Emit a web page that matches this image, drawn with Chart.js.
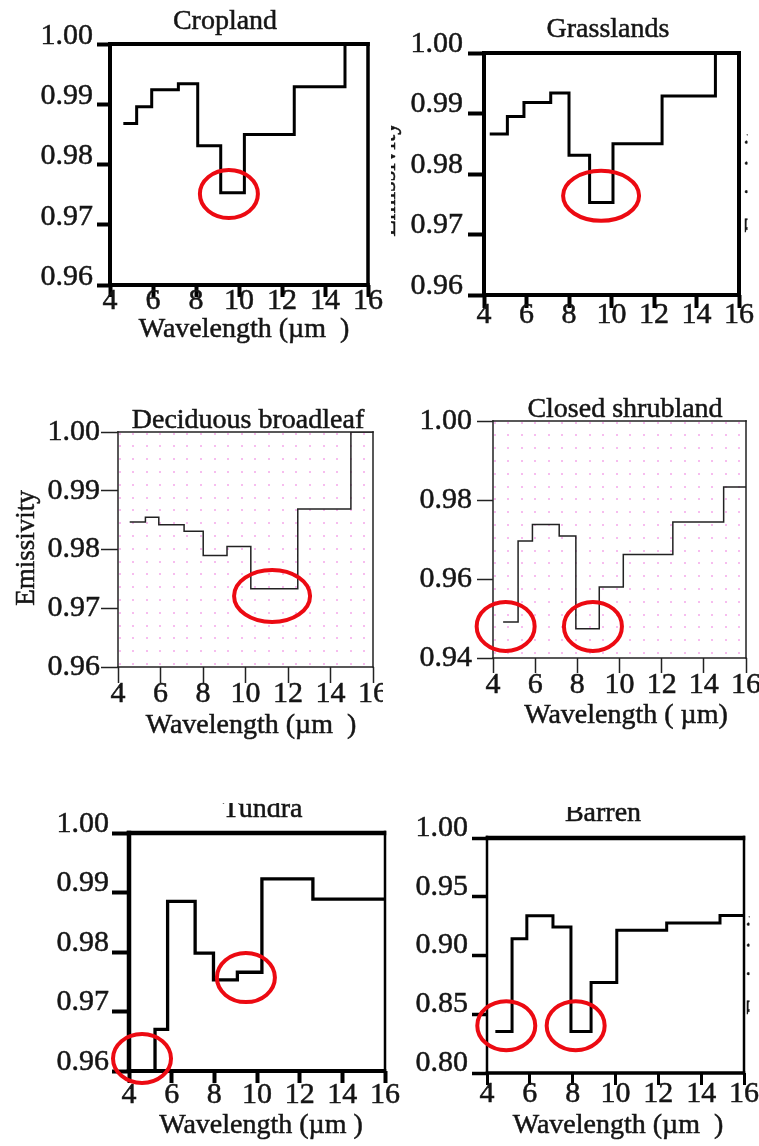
<!DOCTYPE html>
<html>
<head>
<meta charset="utf-8">
<title>Spectral emissivity by land cover</title>
<script src="https://cdn.jsdelivr.net/npm/chart.js@4/dist/chart.umd.min.js"></script>
<style>
  html, body { margin: 0; padding: 0; background: #fff; }
  #sheet { position: relative; width: 759px; height: 1146px; overflow: hidden; background: #fff; }
  #sheet canvas { position: absolute; }
</style>
</head>
<body>
<div id="sheet"></div>
<script>
// ---- Band edges (µm) and band emissivity for each land-cover class ----
const wavelengthTicks = [4, 6, 8, 10, 12, 14, 16];

const croplandEdges      = [4.62, 5.24, 5.94, 7.18, 8.08, 9.15, 10.25, 12.57, 14.93, 16];
const croplandEmissivity = [0.9868, 0.9896, 0.9924, 0.9934, 0.9831, 0.9753, 0.9850, 0.9929, 1.0000];
const croplandTicks      = [0.96, 0.97, 0.98, 0.99, 1.00];
const croplandMarked     = [[9.53, 0.9751]];

const grasslandEdges      = [4.27, 5.10, 5.88, 7.14, 8.00, 8.97, 10.07, 12.38, 14.89, 16];
const grasslandEmissivity = [0.9866, 0.9895, 0.9918, 0.9934, 0.9831, 0.9753, 0.9850, 0.9929, 1.0000];
const grasslandTicks      = [0.96, 0.97, 0.98, 0.99, 1.00];
const grasslandMarked     = [[9.51, 0.9764]];

const deciduousEdges      = [4.55, 5.29, 5.92, 7.11, 8.01, 9.13, 10.25, 12.46, 14.96, 16];
const deciduousEmissivity = [0.9847, 0.9855, 0.9842, 0.9831, 0.9790, 0.9805, 0.9733, 0.9869, 1.0000];
const deciduousTicks      = [0.96, 0.97, 0.98, 0.99, 1.00];
const deciduousMarked     = [[11.25, 0.9721]];

const shrublandEdges      = [4.48, 5.19, 5.87, 7.14, 7.93, 9.04, 10.18, 12.53, 14.94, 16];
const shrublandEmissivity = [0.9491, 0.9696, 0.9738, 0.9709, 0.9474, 0.9580, 0.9662, 0.9744, 0.9833];
const shrublandTicks      = [0.94, 0.96, 0.98, 1.00];
const shrublandMarked     = [[4.60, 0.9480], [8.74, 0.9480]];

const tundraEdges      = [4.00, 5.22, 5.81, 7.10, 7.96, 9.08, 10.23, 12.62, 16];
const tundraEmissivity = [0.9600, 0.9670, 0.9885, 0.9798, 0.9753, 0.9766, 0.9923, 0.9889];
const tundraTicks      = [0.96, 0.97, 0.98, 0.99, 1.00];
const tundraMarked     = [[4.61, 0.9621], [9.48, 0.9757]];

const barrenEdges      = [4.39, 5.17, 5.86, 7.08, 7.92, 8.86, 10.06, 12.39, 14.88, 16];
const barrenEmissivity = [0.8354, 0.9143, 0.9339, 0.9243, 0.8354, 0.8771, 0.9214, 0.9277, 0.9341];
const barrenTicks      = [0.80, 0.85, 0.90, 0.95, 1.00];
const barrenMarked     = [[4.90, 0.8403], [8.14, 0.8403]];

// ---- Panel layout and styling (page pixels) ----
const SERIF = "'Liberation Serif', 'Times New Roman', Times, serif";
const TEXT_INK = '#151515';
const panels = [
  {
    edges: croplandEdges, values: croplandEmissivity, yTicks: croplandTicks, marks: croplandMarked,
    box: { x: 0, y: 0, w: 388, h: 350 }, area: { l: 110, t: 44, r: 368, b: 285 },
    ink: '#000', line: 3, frame: [4, 3.5, 4, 4],
    yTick: { len: 13, width: 4, pad: 4, shift: -8 }, xTick: { len: 12, width: 4, pad: -13.6 },
    title: { text: 'Cropland', x: 225, y: 29 },
    xTitle: { text: 'Wavelength (µm  )', x: 244, y: 337 },
    ring: { rx: 29, ry: 24 }
  },
  {
    edges: grasslandEdges, values: grasslandEmissivity, yTicks: grasslandTicks, marks: grasslandMarked,
    box: { x: 391, y: 0, w: 368, h: 350 }, area: { l: 484, t: 53, r: 739, b: 295 },
    ink: '#000', line: 3, frame: [4, 4, 4, 4],
    yTick: { len: 16, width: 4, pad: 5, shift: -9 }, xTick: { len: 13, width: 4, pad: -11.3 },
    title: { text: 'Grasslands', x: 608, y: 37 },
    sideTexts: [
      { text: 'Emissivity', x: 394.5, y: 179, clip: [391, 410] },
      { text: 'Emissivity', x: 762.8, y: 175, clip: [744, 747.5] }
    ],
    ring: { rx: 38, ry: 25 }
  },
  {
    edges: deciduousEdges, values: deciduousEmissivity, yTicks: deciduousTicks, marks: deciduousMarked,
    box: { x: 0, y: 350, w: 383, h: 410 }, area: { l: 118, t: 432, r: 373, b: 667 },
    ink: '#222', line: 1.5, frame: [1.5, 1.5, 1.5, 1.5], dots: true,
    yTick: { len: 17, width: 1.5, pad: 1, shift: 0 }, xTick: { len: 16, width: 1.5, pad: -6.6 },
    title: { text: 'Deciduous broadleaf', x: 248, y: 428 },
    xTitle: { text: 'Wavelength (µm  )', x: 251, y: 733 },
    yTitle: { text: 'Emissivity', x: 34, y: 548 },
    ring: { rx: 38, ry: 26 }
  },
  {
    edges: shrublandEdges, values: shrublandEmissivity, yTicks: shrublandTicks, marks: shrublandMarked,
    box: { x: 383, y: 350, w: 376, h: 410 }, area: { l: 493, t: 421, r: 746, b: 658 },
    ink: '#222', line: 1.5, frame: [1.5, 1.5, 1.5, 1.5], dots: true,
    yTick: { len: 16, width: 1.5, pad: 5, shift: 0 }, xTick: { len: 15, width: 1.5, pad: -6 },
    title: { text: 'Closed shrubland', x: 625, y: 417 },
    xTitle: { text: 'Wavelength ( µm)', x: 626, y: 723 },
    ring: { rx: 29, ry: 24.5 }
  },
  {
    edges: tundraEdges, values: tundraEmissivity, yTicks: tundraTicks, marks: tundraMarked,
    box: { x: 0, y: 803, w: 405, h: 343 }, area: { l: 129, t: 833, r: 385, b: 1071 },
    ink: '#000', line: 3.3, frame: [4.5, 2.5, 4, 4.5],
    yTick: { len: 17, width: 4, pad: 3, shift: -9 }, xTick: { len: 12, width: 4, pad: -6.3 },
    title: { text: 'Tundra', x: 262.5, y: 817 },
    xTitle: { text: 'Wavelength (µm )', x: 261, y: 1133 },
    ring: { rx: 29, ry: 24.5 }
  },
  {
    edges: barrenEdges, values: barrenEmissivity, yTicks: barrenTicks, marks: barrenMarked,
    box: { x: 405, y: 807, w: 354, h: 339 }, area: { l: 487, t: 838, r: 744, b: 1073 },
    ink: '#000', line: 3, frame: [4.5, 2.5, 3.5, 2.5],
    yTick: { len: 15, width: 3.5, pad: 4, shift: -10 }, xTick: { len: 12, width: 3, pad: -8.6 },
    title: { text: 'Barren', x: 603, y: 821 },
    xTitle: { text: 'Wavelength (µm  )', x: 618, y: 1133 },
    sideTexts: [
      { text: 'Emissivity', x: 764.8, y: 957, clip: [746, 749.5] }
    ],
    ring: { rx: 29, ry: 24.5 }
  }
];

// Frame, pink dot lattice, red highlight rings and panel texts.
function makeDecor(p) {
  const ox = p.box.x, oy = p.box.y;
  const text = (ctx, t, size, rotate, clip) => {
    ctx.save();
    if (clip) {
      ctx.beginPath();
      ctx.rect(clip[0] - ox, 0, clip[1] - clip[0], p.box.h);
      ctx.clip();
    }
    ctx.font = size + 'px ' + SERIF;
    ctx.fillStyle = TEXT_INK;
    ctx.strokeStyle = TEXT_INK;
    ctx.lineWidth = 0.5;
    ctx.textAlign = 'center';
    ctx.textBaseline = 'alphabetic';
    ctx.translate(t.x - ox, t.y - oy);
    if (rotate) ctx.rotate(-Math.PI / 2);
    ctx.fillText(t.text, 0, 0);
    ctx.strokeText(t.text, 0, 0);
    ctx.restore();
  };
  return {
    id: 'decor',
    beforeDatasetsDraw(chart) {
      if (!p.dots) return;
      const { ctx, chartArea: a } = chart;
      ctx.save();
      ctx.fillStyle = 'rgba(246, 178, 236, 0.85)';
      for (let x = a.left + 1.5; x < a.right - 1; x += 13.6) {
        for (let y = a.top + 1.5; y < a.bottom - 1; y += 12.8) {
          ctx.fillRect(Math.round(x) - 1, Math.round(y) - 1, 2, 2);
        }
      }
      ctx.restore();
    },
    afterDatasetsDraw(chart) {
      const { ctx, chartArea: a } = chart;
      const [wt, wr, wb, wl] = p.frame;
      ctx.save();
      ctx.fillStyle = p.ink;
      ctx.fillRect(a.left - wl / 2, a.top - wt / 2, a.right - a.left + (wl + wr) / 2, wt);
      ctx.fillRect(a.left - wl / 2, a.bottom - wb / 2, a.right - a.left + (wl + wr) / 2, wb);
      ctx.fillRect(a.left - wl / 2, a.top - wt / 2, wl, a.bottom - a.top + (wt + wb) / 2);
      ctx.fillRect(a.right - wr / 2, a.top - wt / 2, wr, a.bottom - a.top + (wt + wb) / 2);
      ctx.restore();
    },
    afterDraw(chart) {
      const { ctx, scales } = chart;
      ctx.save();
      ctx.strokeStyle = '#ec0a12';
      ctx.lineWidth = 4;
      p.marks.forEach(([wl, em]) => {
        ctx.beginPath();
        ctx.ellipse(scales.x.getPixelForValue(wl), scales.y.getPixelForValue(em),
          p.ring.rx, p.ring.ry, 0, 0, Math.PI * 2);
        ctx.stroke();
      });
      ctx.restore();
      if (p.title) text(ctx, p.title, 28, false);
      if (p.xTitle) text(ctx, p.xTitle, 28, false);
      if (p.yTitle) text(ctx, p.yTitle, 27, true);
      (p.sideTexts || []).forEach(t => text(ctx, t, 27, true, t.clip));
    }
  };
}

const sheet = document.getElementById('sheet');

panels.forEach(p => {
  const canvas = document.createElement('canvas');
  canvas.width = p.box.w;
  canvas.height = p.box.h;
  canvas.style.left = p.box.x + 'px';
  canvas.style.top = p.box.y + 'px';
  canvas.style.width = p.box.w + 'px';
  canvas.style.height = p.box.h + 'px';
  sheet.appendChild(canvas);

  const n = p.values.length;
  const points = p.values.map((v, i) => ({ x: p.edges[i], y: v }));
  points.push({ x: p.edges[n], y: p.values[n - 1] });

  const tickFont = { family: SERIF, size: 30 };

  new Chart(canvas, {
    type: 'line',
    data: {
      datasets: [{
        data: points,
        stepped: true,
        borderColor: p.ink,
        borderWidth: p.line,
        borderCapStyle: 'butt',
        borderJoinStyle: 'miter',
        pointRadius: 0,
        fill: false
      }]
    },
    options: {
      responsive: false,
      devicePixelRatio: 1,
      animation: false,
      events: [],
      layout: {
        padding: {
          left: 0,
          top: p.area.t - p.box.y,
          right: p.box.x + p.box.w - p.area.r,
          bottom: 0
        }
      },
      plugins: { legend: { display: false }, tooltip: { enabled: false }, title: { display: false } },
      scales: {
        x: {
          type: 'linear',
          min: wavelengthTicks[0],
          max: wavelengthTicks[wavelengthTicks.length - 1],
          afterBuildTicks: s => { s.ticks = wavelengthTicks.map(v => ({ value: v })); },
          afterFit: s => {
            s.height = p.box.y + p.box.h - p.area.b;
            s.paddingLeft = 0; s.paddingRight = 0;
          },
          border: { display: false },
          grid: {
            display: true, drawOnChartArea: false, drawTicks: true,
            tickLength: p.xTick.len, tickWidth: p.xTick.width, tickColor: p.ink
          },
          ticks: {
            font: tickFont, color: TEXT_INK, padding: p.xTick.pad,
            textStrokeColor: TEXT_INK, textStrokeWidth: 0.5,
            maxRotation: 0, autoSkip: false,
            callback: v => String(v)
          }
        },
        y: {
          type: 'linear',
          min: p.yTicks[0],
          max: p.yTicks[p.yTicks.length - 1],
          afterBuildTicks: s => { s.ticks = p.yTicks.map(v => ({ value: v })); },
          afterFit: s => {
            s.width = p.area.l - p.box.x;
            s.paddingTop = 0; s.paddingBottom = 0;
          },
          border: { display: false },
          grid: {
            display: true, drawOnChartArea: false, drawTicks: true,
            tickLength: p.yTick.len, tickWidth: p.yTick.width, tickColor: p.ink
          },
          ticks: {
            font: tickFont, color: TEXT_INK, padding: p.yTick.pad,
            textStrokeColor: TEXT_INK, textStrokeWidth: 0.5,
            labelOffset: p.yTick.shift, autoSkip: false,
            callback: v => v.toFixed(2)
          }
        }
      }
    },
    plugins: [makeDecor(p)]
  });
});
</script>
</body>
</html>
